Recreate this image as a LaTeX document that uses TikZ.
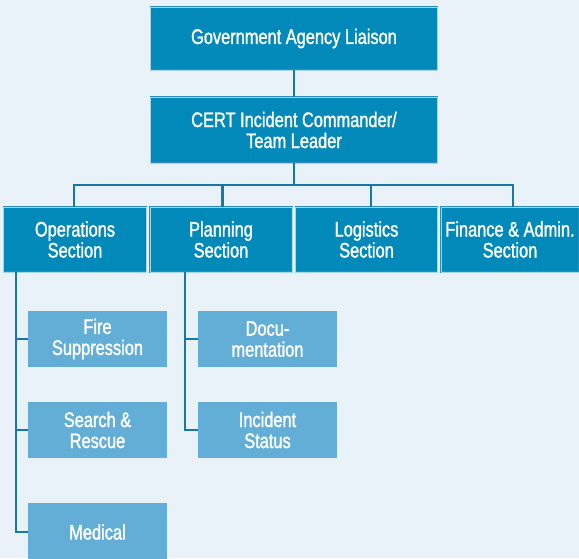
\documentclass[tikz,border=0pt]{standalone}
\usepackage{fontspec}
\setmainfont{Liberation Sans}[FakeStretch=0.78, FakeBold=1.4]
\usetikzlibrary{positioning}

\definecolor{pagebg}{HTML}{EAF2F9}
\definecolor{headblue}{HTML}{0089B9}
\definecolor{subblue}{HTML}{63AED6}
\definecolor{rimblue}{HTML}{2A8DBE}
\definecolor{lineblue}{HTML}{1877AA}

\tikzset{
  headbox/.style={fill=headblue, draw=rimblue, double=white!65!headblue,
    double distance=0.7pt, line width=0.5pt, text=white, align=center,
    inner sep=0pt, font=\fontsize{21}{21}\selectfont},
  subbox/.style={fill=subblue, text=white, align=center, inner sep=0pt,
    minimum width=139pt, font=\fontsize{21}{21}\selectfont},
  conn/.style={draw=lineblue, line width=2.6pt}
}

\begin{document}
\begin{tikzpicture}[x=1pt, y=-1pt]
    % Page
    \fill[pagebg] (0,0) rectangle (579,558);
    \useasboundingbox (0,0) rectangle (579,558);

    % Top of the chart
    \node[headbox, minimum width=287pt, minimum height=63pt] (liaison) at (294,38.5) {Government Agency Liaison};
    \node[headbox, minimum width=287pt, minimum height=66pt] (leader) at (294,130) {CERT Incident Commander/\\Team Leader};

    % Sections
    \node[headbox, minimum width=143pt, minimum height=65pt] (ops) at (75,239.5) {Operations\\Section};
    \node[headbox, minimum width=142pt, minimum height=65pt] (plan) at (221,239.5) {Planning\\Section};
    \node[headbox, minimum width=142pt, minimum height=65pt] (logi) at (366.5,239.5) {Logistics\\Section};
    \node[headbox, minimum width=138pt, minimum height=65pt] (fin) at (510,239.5) {Finance \& Admin.\\Section};

    % Units
    \node[subbox, minimum height=56pt] (fire) at (97.5,339) {Fire\\Suppression};
    \node[subbox, minimum height=56pt] (rescue) at (97.5,430) {Search \&\\Rescue};
    \node[subbox, minimum height=58pt] (medical) at (97.5,532) {Medical};
    \node[subbox, minimum height=56pt] (docu) at (267.5,339) {Docu-\\mentation};
    \node[subbox, minimum height=56pt] (status) at (267.5,430) {Incident\\Status};

    % Connectors
    \coordinate (bus) at (294,185);
    \coordinate (opsline) at (16,272);
    \coordinate (planline) at (185,272);

    \draw[conn] (liaison) -- (leader);
    \draw[conn] (leader) -- (bus);
    \draw[conn] ([xshift=-1pt]ops.north) |- (bus) -| ([xshift=3pt]fin.north);
    \draw[conn] ([xshift=1.5pt]plan.north) -- ([xshift=1.5pt]plan.north |- bus);
    \draw[conn] ([xshift=4.5pt]logi.north) -- ([xshift=4.5pt]logi.north |- bus);

    \draw[conn] (opsline) |- (medical.west);
    \draw[conn] (opsline |- fire.west) -- (fire.west);
    \draw[conn] (opsline |- rescue.west) -- (rescue.west);
    \draw[conn] (planline) |- (status.west);
    \draw[conn] (planline |- docu.west) -- (docu.west);
\end{tikzpicture}
\end{document}
